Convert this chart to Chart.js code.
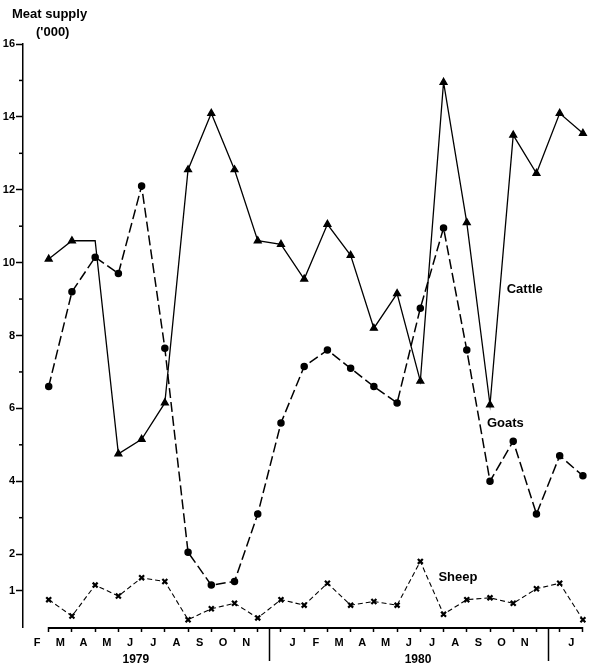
<!DOCTYPE html>
<html>
<head>
<meta charset="utf-8">
<script src="https://cdn.jsdelivr.net/npm/chart.js@4"></script>
<style>
  html, body { margin: 0; background: #fff; }
  #wrap { width: 599px; height: 671px; position: relative; }
</style>
</head>
<body>
<div id="wrap"><canvas id="chart"></canvas></div>
<script>
// month labels, one per interval between data points (Dec is left blank, year divider goes there)
var months = ['F','M','A','M','J','J','A','S','O','N','','J','F','M','A','M','J','J','A','S','O','N','','J'];
var years = ['1979', '1980'];

// meat supply ('000), one value per month boundary
var cattle = [10.1, 10.6, 10.6, 4.75, 5.15, 6.15, 12.55, 14.1, 12.55, 10.6, 10.5, 9.55,
              11.05, 10.2, 8.2, 9.15, 6.75, 14.95, 11.1, 6.1, 13.5, 12.45, 14.1, 13.55];
var goats  = [6.6, 9.2, 10.15, 9.7, 12.1, 7.65, 2.05, 1.15, 1.25, 3.1, 5.6, 7.15,
              7.6, 7.1, 6.6, 6.15, 8.75, 10.95, 7.6, 4.0, 5.1, 3.1, 4.7, 4.15];
var sheep  = [0.75, 0.3, 1.15, 0.85, 1.35, 1.25, 0.2, 0.5, 0.65, 0.25, 0.75, 0.6,
              1.2, 0.6, 0.7, 0.6, 1.8, 0.35, 0.75, 0.8, 0.65, 1.05, 1.2, 0.2];

var yLabelled = [1, 2, 4, 6, 8, 10, 12, 14, 16];

var FONT = '"Liberation Sans", Arial, sans-serif';

function toPoints(arr) {
	return arr.map(function(v, i) { return {x: i, y: v}; });
}

// axis line, year dividers, annotations
var extras = {
	id: 'extras',
	afterDraw: function(chart) {
		var ctx = chart.ctx;
		var x = chart.scales.x, y = chart.scales.y;
		var base = y.getPixelForValue(0) + 1;
		ctx.save();
		ctx.strokeStyle = '#000';
		ctx.fillStyle = '#000';

		// x axis line only spans the data
		ctx.lineWidth = 2;
		ctx.beginPath();
		ctx.moveTo(x.getPixelForValue(0), base);
		ctx.lineTo(x.getPixelForValue(cattle.length - 1), base);
		ctx.stroke();

		// year dividers where December would be
		ctx.lineWidth = 1.5;
		[9.5, 21.5].forEach(function(v) {
			var px = Math.round(x.getPixelForValue(v)) + 0.5;
			ctx.beginPath();
			ctx.moveTo(px, base);
			ctx.lineTo(px, base + 33);
			ctx.stroke();
		});

		// minor ticks on odd values
		ctx.lineWidth = 1.5;
		for (var v = 3; v <= 15; v += 2) {
			var py = y.getPixelForValue(v);
			ctx.beginPath();
			ctx.moveTo(y.right - 4, py);
			ctx.lineTo(y.right, py);
			ctx.stroke();
		}

		ctx.textBaseline = 'middle';
		ctx.textAlign = 'center';
		ctx.font = 'bold 12px ' + FONT;
		ctx.fillText(years[0], x.getPixelForValue(3.75), 660);
		ctx.fillText(years[1], x.getPixelForValue(15.9), 660);

		ctx.textAlign = 'left';
		ctx.font = 'bold 13px ' + FONT;
		ctx.fillText('Cattle', x.getPixelForValue(19.72), y.getPixelForValue(9.26));
		ctx.fillText('Goats', x.getPixelForValue(18.87), y.getPixelForValue(5.6));
		ctx.fillText('Sheep', x.getPixelForValue(16.78), y.getPixelForValue(1.37));

		ctx.fillText('Meat supply', 12, 14);
		ctx.fillText("('000)", 36, 32);
		ctx.restore();
	}
};

new Chart(document.getElementById('chart'), {
	type: 'line',
	data: {
		datasets: [
			{
				label: 'Cattle',
				data: toPoints(cattle),
				borderColor: '#000',
				backgroundColor: '#000',
				borderWidth: 1.3,
				pointStyle: 'triangle',
				pointRadius: function(c) { return c.dataIndex === 2 ? 0 : 4; },
				tension: 0
			},
			{
				label: 'Goats',
				data: toPoints(goats),
				borderColor: '#000',
				backgroundColor: '#000',
				borderWidth: 1.5,
				borderDash: [10, 4],
				pointStyle: 'circle',
				pointRadius: 3,
				tension: 0
			},
			{
				label: 'Sheep',
				data: toPoints(sheep),
				borderColor: '#000',
				backgroundColor: '#000',
				borderWidth: 1.1,
				borderDash: [5, 3],
				pointStyle: 'crossRot',
				pointRadius: 3.5,
				pointBorderWidth: 2.2,
				tension: 0
			}
		]
	},
	options: {
		responsive: true,
		maintainAspectRatio: false,
		animation: false,
		layout: { padding: { top: 44, right: 0, bottom: 0, left: 0 } },
		plugins: {
			legend: { display: false },
			tooltip: { enabled: false }
		},
		scales: {
			x: {
				type: 'linear',
				min: -1.107,
				max: 23.426,
				afterFit: function(s) { s.height = 44; },
				border: { display: false },
				grid: {
					drawOnChartArea: false,
					tickLength: 5,
					tickWidth: 1.5,
					tickColor: function(c) {
						var v = c.tick ? c.tick.value : null;
						return (v !== null && Math.abs(v - Math.round(v)) < 1e-6 && v >= 0 && v <= 23) ? '#000' : 'rgba(0,0,0,0)';
					}
				},
				ticks: {
					stepSize: 0.5,
					autoSkip: false,
					maxRotation: 0,
					includeBounds: false,
					padding: 4,
					color: '#000',
					font: { family: FONT, size: 11, weight: 'bold' },
					callback: function(v) {
						var k = Math.round(v + 0.5);
						if (Math.abs(v + 0.5 - k) > 1e-6) return '';
						return months[k] || '';
					}
				}
			},
			y: {
				min: 0,
				max: 16,
				afterFit: function(s) { s.width = 23; },
				border: { display: true, color: '#000', width: 1.5 },
				grid: {
					drawOnChartArea: false,
					tickLength: 7,
					tickWidth: 1.5,
					tickColor: function(c) {
						return (c.tick && yLabelled.indexOf(c.tick.value) >= 0) ? '#000' : 'rgba(0,0,0,0)';
					}
				},
				ticks: {
					stepSize: 1,
					autoSkip: false,
					padding: 1,
					color: '#000',
					font: { family: FONT, size: 11, weight: 'bold' },
					callback: function(v) { return yLabelled.indexOf(v) >= 0 ? String(v) : ''; }
				}
			}
		}
	},
	plugins: [extras]
});
</script>
</body>
</html>
